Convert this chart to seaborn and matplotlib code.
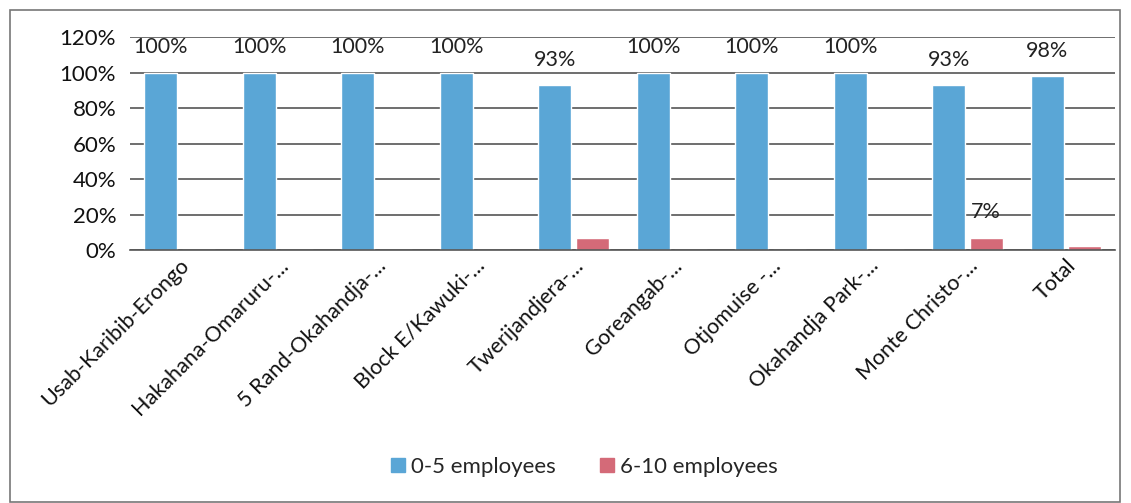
import matplotlib
matplotlib.use("Agg")
import matplotlib.pyplot as plt
import seaborn as sns
import pandas as pd
from matplotlib.patches import Rectangle

categories = ["Usab-Karibib-Erongo", "Hakahana-Omaruru-...", "5 Rand-Okahandja-...",
              "Block E/Kawuki-...", "Twerijandjera-...", "Goreangab-...",
              "Otjomuise -...", "Okahandja Park-...", "Monte Christo-...", "Total"]
series_names = ["0-5 employees", "6-10 employees"]
vals_0_5 = [100, 100, 100, 100, 93, 100, 100, 100, 93, 98]
vals_6_10 = [0, 0, 0, 0, 7, 0, 0, 0, 7, 2]
labels_0_5 = ["100%", "100%", "100%", "100%", "93%", "100%", "100%", "100%", "93%", "98%"]
labels_6_10 = ["", "", "", "", "", "", "", "", "7%", ""]
yticks = [0, 20, 40, 60, 80, 100, 120]

sns.set_theme(style="white")
plt.rcParams['font.family'] = ['Lato', 'DejaVu Sans']

df = pd.DataFrame({
    "cat": categories * 2,
    "series": [series_names[0]] * len(categories) + [series_names[1]] * len(categories),
    "val": vals_0_5 + vals_6_10,
})

fig = plt.figure(figsize=(11.31, 5.03), dpi=100)
ax = fig.add_axes([0.115, 0.503, 0.871, 0.423])
palette = {series_names[0]: "#5aa6d6", series_names[1]: "#d46a78"}
sns.barplot(data=df, x="cat", y="val", hue="series", palette=palette, ax=ax,
            width=0.76, gap=0.12, saturation=1, legend=False)

for cont, labs in zip(ax.containers, [labels_0_5, labels_6_10]):
    ax.bar_label(cont, labels=labs, padding=11, fontsize=15.5, color="#222222")

ax.set_ylim(0, 120)
ax.set_yticks(yticks)
ax.set_yticklabels([f"{t}%" for t in yticks], fontsize=16, color="#111111")
ax.yaxis.grid(True, color="#555555", linewidth=1.2)
ax.set_axisbelow(True)
for s in ["left", "right", "top"]:
    ax.spines[s].set_visible(False)
ax.spines["bottom"].set_color("#555555")
ax.spines["bottom"].set_linewidth(1.2)
ax.tick_params(axis="y", length=0, pad=10)
ax.tick_params(axis="x", length=0, pad=4)
ax.set_xlabel("")
ax.set_ylabel("")
plt.setp(ax.get_xticklabels(), rotation=45, ha="right", rotation_mode="anchor",
         fontsize=15.5, color="#111111")

handles = [Rectangle((0, 0), 1, 1, color=palette[n]) for n in series_names]
fig.legend(handles, series_names, loc="center", bbox_to_anchor=(0.517, 0.072),
           ncol=2, frameon=False, fontsize=16, handlelength=0.6, handleheight=0.6,
           columnspacing=2.0, handletextpad=0.3)

fig.add_artist(Rectangle((0.009, 0.002), 0.981, 0.978, transform=fig.transFigure,
                         fill=False, edgecolor="#777777", linewidth=1.2))

fig.savefig("out.png", dpi=100)
